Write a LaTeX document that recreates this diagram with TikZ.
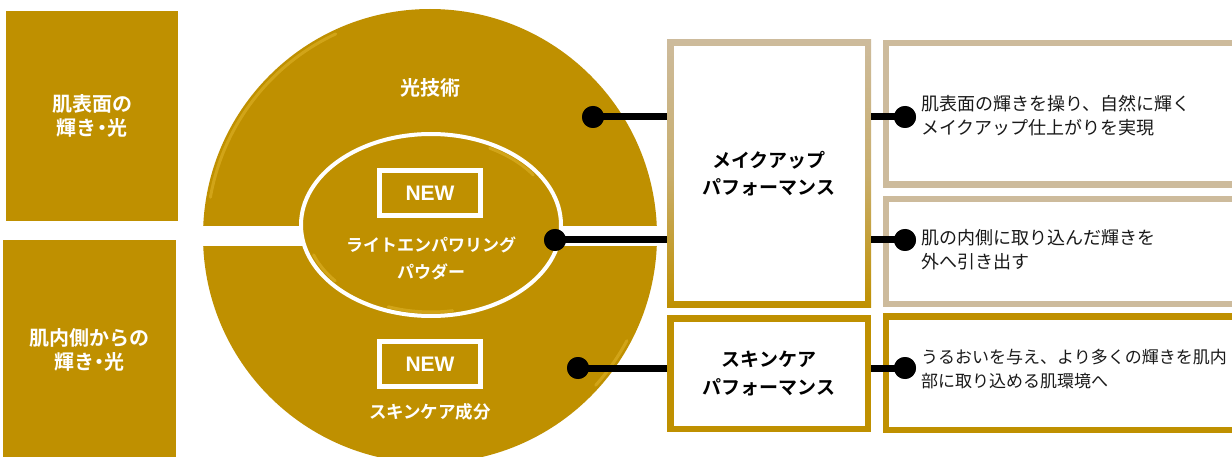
\documentclass[tikz,border=0pt]{standalone}
\usepackage{fontspec}
\setmainfont{Noto Sans CJK JP}[BoldFont=Noto Sans CJK JP Bold]
\newfontfamily\latfont{Liberation Sans}
\usetikzlibrary{shapes.geometric}
\definecolor{gold}{HTML}{BF9000}
\definecolor{tanc}{HTML}{CDBB9C}
\definecolor{hilite}{HTML}{F5CB45}
\definecolor{ink}{HTML}{1A1A1A}
\newcommand{\ndot}{\kern-5pt・\kern-5pt}
\begin{document}
\begin{tikzpicture}[x=1pt,y=-1pt,
  leftbox/.style={fill=gold,draw=none,text=white,inner sep=0pt,align=center,
    font=\bfseries\fontsize{20}{24}\selectfont},
  disctext/.style={text=white,inner sep=0pt,align=center},
  newbox/.style={draw=white,line width=5pt,minimum width=101pt,minimum height=45pt,
    inner sep=0pt,text=white,font=\latfont\bfseries\fontsize{21}{24}\selectfont},
  perfbox/.style={fill=white,inner sep=0pt,align=center,text=black,
    font=\bfseries\fontsize{19}{27.5}\selectfont},
  descbox/.style={fill=white,line width=6.5pt,inner sep=0pt},
  desc/.style={anchor=west,inner sep=0pt,align=left,text=ink,
    font=\fontsize{18}{24}\selectfont},
  dot/.style={circle,fill=black,minimum size=22pt,inner sep=0pt},
  conn/.style={line width=7pt,black},
  gloss/.style={hilite,line width=3pt,opacity=0.35,line cap=round}]
\useasboundingbox (0,0) rectangle (1232,457);
\fill[white] (0,0) rectangle (1232,457);

% left boxes
\node[leftbox,minimum width=172pt,minimum height=210pt] (lb1) at (92,116) {肌表面の\\輝き\ndot 光};
\node[leftbox,minimum width=173pt,minimum height=220pt] (lb2) at (89.5,350) {肌内側からの\\輝き\ndot 光};

% disc
\node[circle,fill=gold,minimum size=454pt,inner sep=0pt] (disc) at (430,236) {};
\draw[gloss] (disc.center) ++(-115:223) arc[start angle=-115,end angle=-170,radius=223];
\draw[gloss] (disc.center) ++(28:223) arc[start angle=28,end angle=42,radius=223];
\fill[white] (195,226) rectangle (665,246);

% inner ellipse
\node[ellipse,draw=white,line width=4pt,fill=gold,minimum width=260pt,minimum height=182pt,inner sep=0pt] (ell) at (431,225) {};
\draw[gloss] (ell.center) ++(-62:125 and 87) arc[start angle=-62,end angle=-35,x radius=125,y radius=87];
\draw[gloss] (ell.center) ++(80:125 and 87) arc[start angle=80,end angle=110,x radius=125,y radius=87];
\draw[gloss] (ell.center) ++(160:125 and 87) arc[start angle=160,end angle=140,x radius=125,y radius=87];

% disc texts
\node[disctext,font=\bfseries\fontsize{20}{24}\selectfont] (t1) at (430,88) {光技術};
\node[newbox] (new1) at (430,193) {NEW};
\node[disctext,font=\bfseries\fontsize{17}{27}\selectfont] (t2) at (431,258.5) {ライトエンパワリング\\パウダー};
\node[newbox] (new2) at (430,364) {NEW};
\node[disctext,font=\bfseries\fontsize{17.5}{24}\selectfont] (t3) at (430,412) {スキンケア成分};

% performance boxes
\shade[top color=tanc,bottom color=gold,middle color=tanc!70!gold] (667,40) rectangle (871,307);
\node[perfbox,minimum width=191pt,minimum height=254pt] (mk) at (769,173.5) {メイクアップ\\パフォーマンス};
\node[perfbox,draw=gold,line width=6.5pt,minimum width=197.5pt,minimum height=110.5pt] (sk) at (769,373.5) {スキンケア\\パフォーマンス};
\coordinate (mkL) at (667,173.5);
\coordinate (mkR) at (871,173.5);

% description boxes
\node[descbox,draw=tanc,minimum width=354pt,minimum height=141.5pt] (r1) at (1063,114) {};
\node[descbox,draw=tanc,minimum width=354pt,minimum height=104.5pt] (r2) at (1063,251.5) {};
\node[descbox,draw=gold,minimum width=354pt,minimum height=113.5pt] (r3) at (1063,373) {};

\node[desc] (d1) at (921,116) {肌表面の輝きを操り、自然に輝く\\メイクアップ仕上がりを実現};
\node[desc] (d2) at (921,250) {肌の内側に取り込んだ輝きを\\外へ引き出す};
\node[desc,font=\fontsize{17}{24}\selectfont] (d3) at (921,369) {うるおいを与え、より多くの輝きを肌内\\部に取り込める肌環境へ};

% dots and connectors (left)
\node[dot] (p1) at (593,117) {};
\node[dot] (p2) at (555,240) {};
\node[dot] (p3) at (578,368) {};
\draw[conn] (p1.center) -- (p1 -| mkL);
\draw[conn] (p2.center) -- (p2 -| mkL);
\draw[conn] (p3.center) -- (p3 -| sk.west);
\node[dot] at (p1) {};
\node[dot] at (p2) {};
\node[dot] at (p3) {};

% dots and connectors (right)
\node[dot] (q1) at (905,117) {};
\node[dot] (q2) at (905,240) {};
\node[dot] (q3) at (905,368) {};
\draw[conn] (q1 -| mkR) -- (q1.center);
\draw[conn] (q2 -| mkR) -- (q2.center);
\draw[conn] (q3 -| sk.east) -- (q3.center);
\node[dot] at (q1) {};
\node[dot] at (q2) {};
\node[dot] at (q3) {};
\end{tikzpicture}
\end{document}
